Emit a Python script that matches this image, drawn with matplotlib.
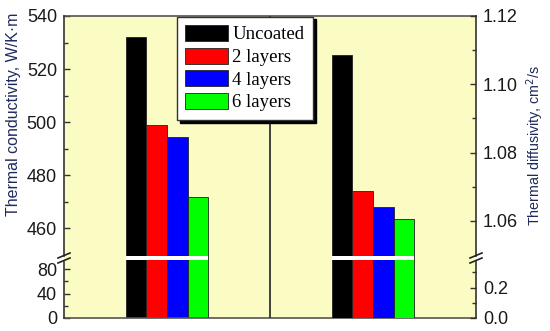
import numpy as np
import matplotlib
matplotlib.use("Agg")
import matplotlib.pyplot as plt
from matplotlib.patches import Rectangle
from matplotlib.ticker import FixedLocator, FixedFormatter

# ---- data ----
categories = ["Uncoated", "2 layers", "4 layers", "6 layers"]
colors = ["#000000", "#FF0000", "#0000FF", "#00FF00"]
conductivity = [532.2, 499.0, 494.5, 472.0]        # W/K·m  (left group)
diffusivity = [1.1085, 1.0687, 1.0641, 1.0605]     # cm²/s  (right group)
group_centers = [0.5, 1.5]

left_major = [0, 40, 80, 460, 480, 500, 520, 540]
left_minor = [20, 60, 470, 490, 510, 530]
right_major = [0.0, 0.2, 1.06, 1.08, 1.10, 1.12]
right_minor = [0.1, 0.3, 1.07, 1.09, 1.11]

# ---- figure geometry (pixels) ----
W, H = 550, 331
L, R, T, B = 64, 476, 16, 318
AW, AH = R - L, B - T
fig = plt.figure(figsize=(W / 100, H / 100), dpi=100)
ax = fig.add_axes([L / W, (H - B) / H, AW / W, AH / H])

BG = "#FBFBC4"
ax.set_facecolor(BG)

# broken-axis piecewise scale (in axes pixel units)
PP = [0, 61, 63, AH]


def make_scale(bp, pp):
    bp = np.asarray(bp, float)
    pp = np.asarray(pp, float)

    def conv(v, a, b):
        v = np.asarray(v, float)
        out = np.interp(v, a, b)
        lo = b[0] + (v - a[0]) * (b[1] - b[0]) / (a[1] - a[0])
        hi = b[-1] + (v - a[-1]) * (b[-1] - b[-2]) / (a[-1] - a[-2])
        out = np.where(v < a[0], lo, out)
        out = np.where(v > a[-1], hi, out)
        return out

    return (lambda v: conv(v, bp, pp)), (lambda v: conv(v, pp, bp))


fL = make_scale([0, 100, 450, 540], PP)
fR = make_scale([0, 0.4, 1.05, 1.12], PP)

ax.set_yscale("function", functions=fL)
ax.set_ylim(0, 540)
ax.set_xlim(0, 2)

ax2 = ax.twinx()
ax2.set_yscale("function", functions=fR)
ax2.set_ylim(0, 1.12)
ax2.set_xlim(0, 2)

width = 0.1
offsets = [(i - 1.5) * width for i in range(len(categories))]
handles = []
for i, cat in enumerate(categories):
    b = ax.bar(group_centers[0] + offsets[i], conductivity[i], width,
               color=colors[i], edgecolor="#222222", linewidth=0.6,
               label=cat, zorder=2)
    handles.append(b)
    ax2.bar(group_centers[1] + offsets[i], diffusivity[i], width,
            color=colors[i], edgecolor="#222222", linewidth=0.6, zorder=2)

# white break gap across the bars
for gc, a in zip(group_centers, [ax, ax2]):
    x0 = gc + offsets[0] - width / 2
    x1 = gc + offsets[-1] + width / 2
    a.add_patch(Rectangle((x0, 58.5 / AH), x1 - x0, 4.0 / AH,
                          transform=a.get_xaxis_transform(),
                          facecolor="white", edgecolor="none", zorder=3))

# divider line
ax2.axvline(1.0, color="#333333", lw=1.3, zorder=1)

# ticks
tick_color = "#1a1a1a"
for a, major, minor, fmt in [(ax, left_major, left_minor, lambda v: f"{v:g}"),
                             (ax2, right_major, right_minor, lambda v: f"{v:.2f}" if v > 1 else f"{v:.1f}")]:
    a.yaxis.set_major_locator(FixedLocator(major))
    a.yaxis.set_major_formatter(FixedFormatter([fmt(v) for v in major]))
    a.yaxis.set_minor_locator(FixedLocator(minor))
    a.tick_params(axis="y", which="major", direction="in", length=4.5, width=1,
                  color="#333333", labelsize=13, labelcolor=tick_color, pad=5)
    a.tick_params(axis="y", which="minor", direction="in", length=3, width=1,
                  color="#333333")
    for lab in a.get_yticklabels():
        lab.set_family("Liberation Sans")

ax.set_xticks([])
ax2.set_xticks([])

# spines
for a in (ax, ax2):
    for s in a.spines.values():
        s.set_visible(False)
ax.spines["top"].set_visible(True)
ax.spines["bottom"].set_visible(True)
ax.spines["top"].set_color("#555555")
ax.spines["bottom"].set_color("#555555")
ax.spines["top"].set_linewidth(1.2)
ax.spines["bottom"].set_linewidth(1.2)

gap_lo, gap_hi = 56.5 / AH, 62.5 / AH
for xs in (0, 1):
    ax.plot([xs, xs], [0, gap_lo], transform=ax.transAxes, color="#333333",
            lw=1.2, clip_on=False, zorder=5)
    ax.plot([xs, xs], [gap_hi, 1], transform=ax.transAxes, color="#333333",
            lw=1.2, clip_on=False, zorder=5)
    for cy in (57.5, 62.5):
        ax.plot([xs - 6 / AW, xs + 6 / AW],
                [(cy - 2.5) / AH, (cy + 2.5) / AH],
                transform=ax.transAxes, color="#222222", lw=1.2,
                clip_on=False, zorder=5)

# axis labels
lab_color = "#1f2a5c"
ax.set_ylabel("Thermal conductivity, W/K·m", family="Liberation Sans",
              fontsize=11.5, color=lab_color)
ax.yaxis.label.set_verticalalignment("center")
ax.yaxis.label.set_horizontalalignment("center")
ax.yaxis.set_label_coords((14 - L) / AW, (B - 114) / AH)
ax2.set_ylabel("Thermal diffusivity, cm$^2$/s", family="Liberation Sans",
               fontsize=10.3, color=lab_color, rotation=90)
ax2.yaxis.label.set_verticalalignment("center")
ax2.yaxis.label.set_horizontalalignment("center")
ax2.yaxis.set_label_coords((535 - L) / AW, (B - 145) / AH)

# legend
leg = ax2.legend(handles, categories, loc="upper left",
                 bbox_to_anchor=((177 - L) / AW, (B - 16.5) / AH),
                 borderaxespad=0, fancybox=False,
                 shadow={"color": "black", "alpha": 1.0},
                 prop={"family": "Liberation Serif", "size": 13.5},
                 handlelength=2.25, handleheight=0.95, labelspacing=0.22,
                 handletextpad=0.25, borderpad=0.45, framealpha=1)
leg.get_frame().set_edgecolor("#333333")
leg.get_frame().set_linewidth(1.0)
leg.set_zorder(10)

fig.savefig("out.png", dpi=100, facecolor="white")
